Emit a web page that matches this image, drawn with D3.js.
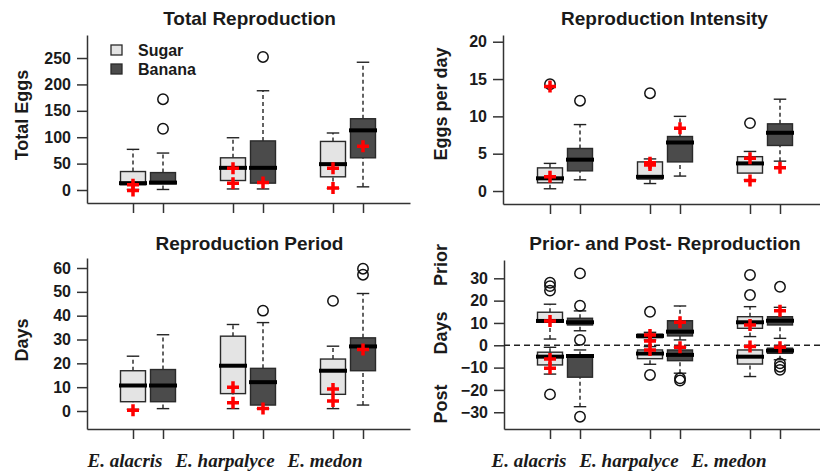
<!DOCTYPE html>
<html>
<head>
<meta charset="utf-8">
<script src="https://cdn.jsdelivr.net/npm/d3@7"></script>
<style>
    body { margin: 0; background: #fff; }
    svg text { font-family: "Liberation Sans", Arial, sans-serif; font-weight: bold; fill: #1a1a1a; }
    svg text.species { font-family: "Liberation Serif", "Times New Roman", serif; font-style: italic; }
    .axis path, .axis line { stroke: #333; stroke-width: 1.5; }
</style>
</head>
<body>
<div id="chart"></div>
<script>

const species = ["E. alacris", "E. harpalyce", "E. medon"];
const diets = ["Sugar", "Banana"];

// order of every list: alacris-Sugar, alacris-Banana, harpalyce-Sugar, harpalyce-Banana, medon-Sugar, medon-Banana
// box stats: [lower whisker, Q1, median, Q3, upper whisker]
const totalEggsStats = [[1, 10, 13, 35, 77], [1, 12, 14, 33, 70], [2, 18, 42, 61, 99], [2, 13, 42, 93, 188], [3, 25, 49, 92, 108], [6, 61, 113, 135, 242]];
const totalEggsOutliers = [[], [116, 172], [], [252], [], []];
const totalEggsCrosses = [[10, -1], [], [41, 13], [14], [41, 4], [83]];

const eggsPerDayStats = [[0.3, 1.1, 1.7, 3.1, 3.7], [1.5, 2.7, 4.2, 5.7, 8.9], [1.0, 1.6, 1.9, 3.9, 4.3], [2.0, 3.9, 6.5, 7.3, 10.0], [1.5, 2.4, 3.7, 4.6, 5.3], [4.0, 6.1, 7.8, 9.0, 12.3]];
const eggsPerDayOutliers = [[14.3], [12.1], [13.1], [], [9.1], []];
const eggsPerDayCrosses = [[14.0, 1.9], [], [3.8, 3.5], [8.4], [4.4, 1.4], [3.1]];

const periodStats = [[0.7, 3.9, 10.7, 16.9, 23], [1, 3.9, 10.7, 17.4, 32], [1, 7.3, 19, 31.4, 36.3], [1, 2.5, 12.1, 17.9, 37.1], [1, 7, 16.9, 21.8, 27.2], [2.5, 16.9, 27.1, 30.7, 49.3]];
const periodOutliers = [[], [], [], [42.1], [46.2], [57.2, 59.7]];
const periodCrosses = [[0.3], [], [10, 3.5], [1], [9.2, 4.2], [25.8]];

const priorStats = [[2.8, 10.4, 10.9, 14.8, 18.4], [6.5, 9.1, 10.3, 12.1, 15.4], [2.4, 3.4, 4.2, 5.0, 5.8], [2.4, 4.2, 6.1, 11, 17.6], [3.9, 7.6, 10.3, 12.8, 17.3], [3.1, 9.1, 11, 12.8, 17]];
const priorOutliers = [[24.5, 26.5, 28], [2.4, 17.7, 32.2], [15], [], [22.5, 31.5], [26.2]];
const priorCrosses = [[10.9], [], [4.6, 1.9], [10.3], [9.1], [15.5]];

const postStats = [[-12.9, -8.8, -5.1, -3.1, -0.9], [-27.5, -14.3, -4.8, -4.6, -2.1], [-8.5, -6, -3.7, -2.1, -0.6], [-12.5, -6.9, -4.3, -2.1, -0.8], [-14, -8.4, -5.1, -2.1, -0.3], [-6.5, -3.6, -2.4, -1.3, -0.3]];
const postOutliers = [[-22], [-32], [-13.3], [-14.8, -15.8], [], [-8.1, -9.6, -11]];
const postCrosses = [[-6.2, -10.3], [], [-2.1], [-0.9], [-0.6], [-0.9]];

const fills = {"Sugar": "#e4e4e4", "Banana": "#4b4b4b"};

const panels = [
    {title: "Total Reproduction", ylabels: [["Total Eggs", 115]], ticks: d3.range(0, 251, 50),
     xDomain: [-0.61, 2.62], xRange: [87, 410], yDomain: [-24.6, 293.6], yRange: [203, 35], titleY: 25, labelX: 28,
     sets: [{stats: totalEggsStats, outliers: totalEggsOutliers, crosses: totalEggsCrosses}], legend: true},
    {title: "Reproduction Intensity", ylabels: [["Eggs per day", 104]], ticks: d3.range(0, 21, 5),
     xDomain: [-0.62, 2.55], xRange: [503, 820], yDomain: [-1.74, 20.9], yRange: [204, 35], titleY: 25, labelX: 447,
     sets: [{stats: eggsPerDayStats, outliers: eggsPerDayOutliers, crosses: eggsPerDayCrosses}]},
    {title: "Reproduction Period", ylabels: [["Days", 340]], ticks: d3.range(0, 61, 10),
     xDomain: [-0.61, 2.62], xRange: [87, 410], yDomain: [-7.55, 64.2], yRange: [429, 258], titleY: 250, labelX: 28,
     sets: [{stats: periodStats, outliers: periodOutliers, crosses: periodCrosses}], speciesShift: -23},
    {title: "Prior- and Post- Reproduction", ylabels: [["Prior", 265], ["Days", 333], ["Post", 404]], ticks: d3.range(-30, 31, 10),
     xDomain: [-0.61, 2.55], xRange: [504, 820], yDomain: [-37.5, 38.2], yRange: [429, 260], titleY: 250, labelX: 447,
     sets: [{stats: priorStats, outliers: priorOutliers, crosses: priorCrosses},
            {stats: postStats, outliers: postOutliers, crosses: postCrosses}], zeroLine: true, speciesShift: -36}
];

const svg = d3.select("#chart").append("svg")
    .attr("width", 820)
    .attr("height", 475);

function drawPanel(p) {
    let x = d3.scaleLinear().domain(p.xDomain).range(p.xRange);
    let y = d3.scaleLinear().domain(p.yDomain).range(p.yRange);
    let g = svg.append("g");

    // slot of each species x diet box
    let slot = k => Math.floor(k / 2) + (k % 2 ? 0.15 : -0.15);
    let half = (x(0.125) - x(0));

    g.append("g")
        .attr("class", "axis")
        .attr("transform", "translate(0," + p.yRange[0] + ")")
        .call(d3.axisBottom(x).tickValues(d3.range(6).map(slot)).tickFormat("").tickSize(10).tickSizeOuter(0));

    let yAxis = g.append("g")
        .attr("class", "axis")
        .attr("transform", "translate(" + p.xRange[0] + ",0)")
        .call(d3.axisLeft(y).tickValues(p.ticks).tickSize(10).tickSizeOuter(0).tickPadding(6));
    yAxis.selectAll("text").style("font-size", "16px").attr("fill", "#1a1a1a");

    g.append("text")
        .attr("x", (p.xRange[0] + p.xRange[1]) / 2 + (p.xRange[0] > 400 ? 3 : 1))
        .attr("y", p.titleY)
        .attr("text-anchor", "middle")
        .style("font-size", "19px")
        .text(p.title);

    p.ylabels.forEach(function(l) {
        g.append("text")
            .attr("transform", "translate(" + p.labelX + "," + l[1] + ") rotate(-90)")
            .attr("text-anchor", "middle")
            .style("font-size", "18px")
            .text(l[0]);
    });

    if (p.zeroLine) {
        g.append("line")
            .attr("x1", p.xRange[0]).attr("x2", p.xRange[1])
            .attr("y1", y(0)).attr("y2", y(0))
            .attr("stroke", "#222").attr("stroke-width", 1.5)
            .attr("stroke-dasharray", "6,4");
    }

    p.sets.forEach(function(set) {
        set.stats.forEach(function(s, k) {
            let cx = x(slot(k));
            let fill = fills[diets[k % 2]];
            let b = g.append("g");
            // whiskers
            [[s[0], s[1]], [s[3], s[4]]].forEach(function(w) {
                if (w[0] === w[1]) return;
                b.append("line")
                    .attr("x1", cx).attr("x2", cx)
                    .attr("y1", y(w[0])).attr("y2", y(w[1]))
                    .attr("stroke", "#222").attr("stroke-width", 1.4)
                    .attr("stroke-dasharray", "4,3");
            });
            [s[0], s[4]].forEach(function(v) {
                b.append("line")
                    .attr("x1", cx - half / 2).attr("x2", cx + half / 2)
                    .attr("y1", y(v)).attr("y2", y(v))
                    .attr("stroke", "#222").attr("stroke-width", 1.4);
            });
            b.append("rect")
                .attr("x", cx - half)
                .attr("width", 2 * half)
                .attr("y", y(s[3]))
                .attr("height", Math.max(y(s[1]) - y(s[3]), 0.5))
                .attr("fill", fill)
                .attr("stroke", "#2a2a2a")
                .attr("stroke-width", 1.4);
            b.append("line")
                .attr("x1", cx - half - 1.5).attr("x2", cx + half + 1.5)
                .attr("y1", y(s[2])).attr("y2", y(s[2]))
                .attr("stroke", "#000").attr("stroke-width", 4);
            b.selectAll("circle")
                .data(set.outliers[k])
                .enter().append("circle")
                .attr("cx", cx)
                .attr("cy", d => y(d))
                .attr("r", 5.2)
                .attr("fill", "none")
                .attr("stroke", "#111")
                .attr("stroke-width", 1.5);
        });
    });

    // red crosses on top
    p.sets.forEach(function(set) {
        set.crosses.forEach(function(c, k) {
            let cx = x(slot(k));
            g.selectAll(null)
                .data(c)
                .enter().append("path")
                .attr("d", d => "M" + (cx - 6) + "," + y(d) + "h12M" + cx + "," + (y(d) - 6) + "v12")
                .attr("stroke", "#ff0000")
                .attr("stroke-width", 3.5);
        });
    });

    if (p.speciesShift !== undefined) {
        g.selectAll(".species")
            .data(species)
            .enter().append("text")
            .attr("class", "species")
            .attr("x", (d, i) => x(i) + p.speciesShift)
            .attr("y", 467)
            .attr("text-anchor", "middle")
            .style("font-size", "19px")
            .text(d => d);
    }

    if (p.legend) {
        let lg = g.append("g").attr("transform", "translate(111,45)");
        diets.forEach(function(d, i) {
            lg.append("rect")
                .attr("x", 0).attr("y", i * 19)
                .attr("width", 11).attr("height", 10)
                .attr("fill", fills[d])
                .attr("stroke", "#2a2a2a")
                .attr("stroke-width", 1.3);
            lg.append("text")
                .attr("x", 27).attr("y", i * 19 + 11)
                .style("font-size", "16px")
                .text(d);
        });
    }
}

panels.forEach(drawPanel);

</script>
</body>
</html>
